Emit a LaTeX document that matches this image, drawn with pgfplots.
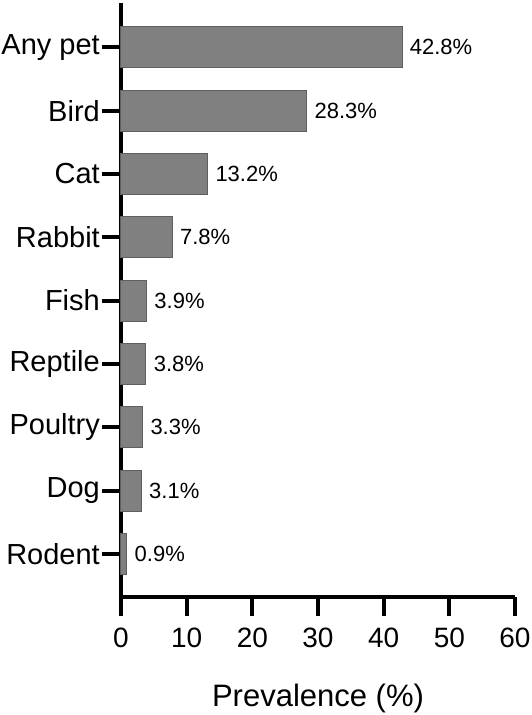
\documentclass[border=0pt]{standalone}
\usepackage{fontspec}
\setmainfont{Liberation Sans}
\usepackage{pgfplots}
\pgfplotsset{compat=1.18}
\definecolor{barfill}{RGB}{128,128,128}
\definecolor{baredge}{RGB}{95,95,95}
\begin{document}
\begin{tikzpicture}
\begin{axis}[
 at={(121pt,118pt)}, anchor=south west,
 width=394pt, height=594pt, scale only axis,
 xbar, bar width=41pt, bar shift=0pt,
 xmin=0, xmax=60, ymin=-0.68, ymax=8.7,
 axis x line=bottom, axis y line=left,
 axis line style={line width=4pt, -},
 xtick={0,10,...,60}, ytick={0,...,8},
 yticklabels={Rodent,Dog,Poultry,Reptile,Fish,Rabbit,Cat,Bird,Any pet},
 tick align=outside, major tick length=19pt,
 tick style={line width=4pt, black},
 /pgf/number format/assume math mode=true,
 xticklabel style={font=\fontsize{28}{32}\selectfont, yshift=-8pt},
 yticklabel style={font=\fontsize{29}{34}\selectfont, inner sep=2pt},
 xlabel={Prevalence (\%)},
 xlabel style={font=\fontsize{31}{36}\selectfont, yshift=-30pt},
 point meta=x,
 nodes near coords={\pgfmathprintnumber[fixed,precision=1,fixed zerofill]{\pgfplotspointmeta}\%},
 nodes near coords style={font=\fontsize{22}{26}\selectfont, anchor=west, black, xshift=4pt},
 clip=false,
]
\addplot[fill=barfill, draw=baredge, line width=1pt] coordinates {
(42.8,8) (28.3,7) (13.2,6) (7.8,5) (3.9,4) (3.8,3) (3.3,2) (3.1,1) (0.9,0)};
\end{axis}
\pgfresetboundingbox
\useasboundingbox (0,0) rectangle (532pt,715pt);
\end{tikzpicture}
\end{document}
